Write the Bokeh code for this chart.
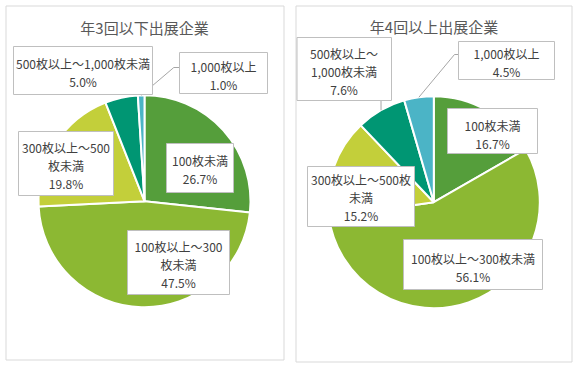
import math
from bokeh.plotting import figure
from bokeh.models import Range1d, ColumnDataSource
from bokeh.embed import file_html
from bokeh.resources import INLINE
from bokeh.core.properties import value

# ---- data ----
categories = ["100枚未満", "100枚以上～300枚未満", "300枚以上～500枚未満",
              "500枚以上～1,000枚未満", "1,000枚以上"]
title_3_or_less = "年3回以下出展企業"
title_4_or_more = "年4回以上出展企業"
share_3_or_less = [26.7, 47.5, 19.8, 5.0, 1.0]
share_4_or_more = [16.7, 56.1, 15.2, 7.6, 4.5]
labels_3_or_less = ["100枚未満", "100枚以上～300\n枚未満", "300枚以上～500\n枚未満",
                    "500枚以上～1,000枚未満", "1,000枚以上"]
labels_4_or_more = ["100枚未満", "100枚以上～300枚未満", "300枚以上～500枚\n未満",
                    "500枚以上～\n1,000枚未満", "1,000枚以上"]
colors = ["#559E3B", "#8CB833", "#C3CF3A", "#009673", "#4BB4C6"]

FONT = value("Noto Sans CJK JP")
W, H = 574, 364  # figure size; screen y is flipped with H

# ---- layout (screen pixel coordinates) ----
panels = [
    dict(title=title_3_or_less, values=share_3_or_less, labels=labels_3_or_less,
         border=(5.5, 283.5, 5.5, 359.5), title_pos=(144, 27), center=(144, 200.7), r=106,
         boxes=[(166, 233, 143, 192), (127, 229, 230, 294), (18, 113, 131, 195),
                (13, 152, 46, 94), (179, 267, 52, 93)],
         text_c=[(199.5, 169), (178, 264), (65.5, 165), (82.5, 71.5), (223, 75)],
         leaders={4: [(179, 67), (173.3, 67)]}),
    dict(title=title_4_or_more, values=share_4_or_more, labels=labels_4_or_more,
         border=(295.5, 571.5, 5.5, 361.5), title_pos=(433.5, 26), center=(433.3, 201.7), r=106,
         boxes=[(447, 537, 108, 153), (403, 542, 239, 289), (307, 414, 166, 226),
                (296.5, 391, 37, 100), (458, 554, 41, 79)],
         text_c=[(492, 133.5), (472.5, 266.5), (360.5, 197), (343.5, 71), (506, 62)],
         leaders={3: [(380.5, 100)], 4: [(458, 54), (454, 54)]}),
]

p = figure(width=W, height=H, x_range=Range1d(0, W), y_range=Range1d(0, H),
           output_backend="svg", toolbar_location=None, min_border=0)
p.axis.visible = False
p.grid.visible = False
p.outline_line_color = None
p.background_fill_color = "white"

LINE_SP = 18

for pn in panels:
    bx0, bx1, by0, by1 = pn["border"]
    p.quad(left=[bx0], right=[bx1], top=[H - by0], bottom=[H - by1],
           fill_color=None, line_color="#D9D9D9", line_width=1)
    tx, ty = pn["title_pos"]
    p.text(x=[tx], y=[H - ty], text=[pn["title"]], text_font=FONT, text_font_size="15px",
           text_color="#595959", text_align="center", text_baseline="middle")

    vals = pn["values"]
    total = sum(vals)
    cx, cy = pn["center"]
    cyd = H - cy
    r = pn["r"]
    starts, ends, mids = [], [], []
    cum = 0.0
    for v in vals:
        a0 = math.pi / 2 - 2 * math.pi * cum / total
        cum += v
        a1 = math.pi / 2 - 2 * math.pi * cum / total
        starts.append(a0)
        ends.append(a1)
        mids.append((a0 + a1) / 2)
    src = ColumnDataSource(dict(start=starts, end=ends, color=colors, cat=categories))
    p.wedge(x=cx, y=cyd, radius=r, start_angle="start", end_angle="end",
            direction="clock", fill_color="color", line_color="white", line_width=2,
            source=src)

    # leader lines
    for idx, pts in pn["leaders"].items():
        ex = cx + r * math.cos(mids[idx])
        ey = cyd + r * math.sin(mids[idx])
        xs = [q[0] for q in pts] + [ex]
        ys = [H - q[1] for q in pts] + [ey]
        p.line(xs, ys, line_color="#A6A6A6", line_width=1)

    # label boxes
    p.quad(left=[b[0] for b in pn["boxes"]], right=[b[1] for b in pn["boxes"]],
           top=[H - b[2] for b in pn["boxes"]], bottom=[H - b[3] for b in pn["boxes"]],
           fill_color="white", line_color="#BFBFBF", line_width=1)

    # label text
    xs, ys, ts = [], [], []
    for i, (lab, v) in enumerate(zip(pn["labels"], vals)):
        lines = lab.split("\n") + [f"{v:.1f}%"]
        n = len(lines)
        tcx, tcy = pn["text_c"][i]
        for j, ln in enumerate(lines):
            xs.append(tcx)
            ys.append(H - (tcy + (j - (n - 1) / 2) * LINE_SP))
            ts.append(ln)
    p.text(x=xs, y=ys, text=ts, text_font=FONT, text_font_size="12px",
           text_color="#404040", text_align="center", text_baseline="middle")

open("out.html", "w").write(file_html(p, INLINE))
